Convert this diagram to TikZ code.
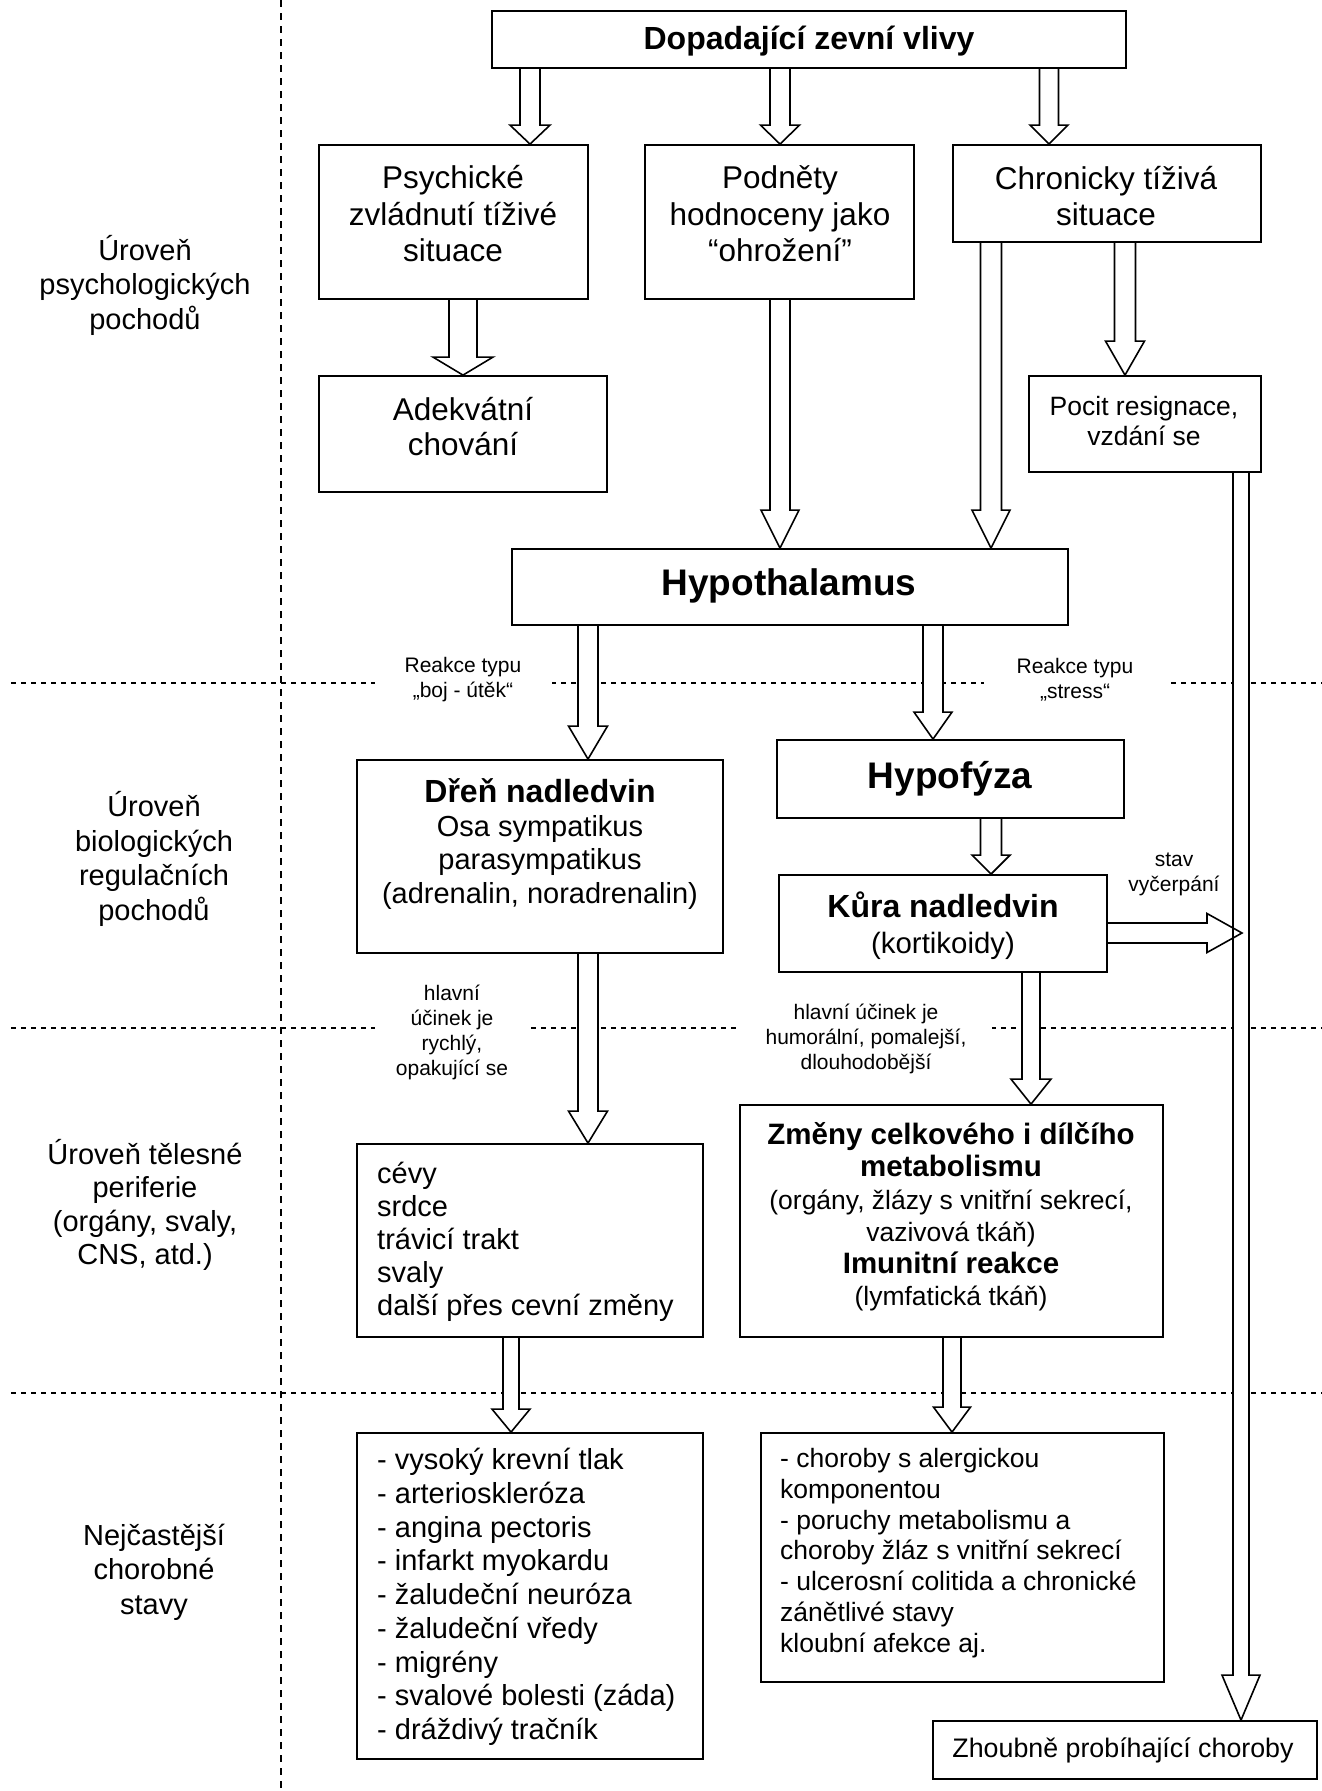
\documentclass[tikz,border=0pt]{standalone}
\usepackage{fontspec}
\setmainfont{Liberation Sans}
\usetikzlibrary{calc}
\pgfdeclarelayer{back}
\pgfdeclarelayer{arr}
\pgfsetlayers{back,arr,main}
% vertical block arrow: [opts]{start}{target (y only)}{shaft half width}{head half width}{head length}
\newcommand{\vblock}[6][]{%
  \draw[blockarrow,#1] let \p1=#2, \p2=#3 in
    (\x1-#4,\y1) -- (\x1-#4,\y2+#6) -- (\x1-#5,\y2+#6) -- (\x1,\y2)
    -- (\x1+#5,\y2+#6) -- (\x1+#4,\y2+#6) -- (\x1+#4,\y1);}
% horizontal block arrow (to the right)
\newcommand{\hblock}[6][]{%
  \draw[blockarrow,#1] let \p1=#2, \p2=#3 in
    (\x1,\y1+#4) -- (\x2-#6,\y1+#4) -- (\x2-#6,\y1+#5) -- (\x2,\y1)
    -- (\x2-#6,\y1-#5) -- (\x2-#6,\y1-#4) -- (\x1,\y1-#4);}
\begin{document}
\begin{tikzpicture}[x=1pt,y=-1pt,
  box/.style={draw, line width=1.8pt, fill=white, inner sep=0pt},
  txt/.style={inner sep=0pt, align=center},
  ltxt/.style={inner sep=0pt, align=left, anchor=west},
  lbl/.style={inner sep=0pt, align=center, fill=white, font=\fontsize{21}{25}\selectfont},
  side/.style={inner sep=0pt, align=center, font=\fontsize{29}{34.5}\selectfont},
  blockarrow/.style={draw, line width=1.6pt, fill=white, line join=miter},
  hdash/.style={line width=1.3pt, dash pattern=on 5pt off 5pt},
  vdash/.style={line width=1.3pt, dash pattern=on 7pt off 6pt}]
\useasboundingbox (0,0) rectangle (1322,1791);
\begin{pgfonlayer}{back}
  \fill[white] (0,0) rectangle (1322,1791);
  \draw[vdash] (281,0) -- (281,1791);
  \draw[hdash] (11,683) -- (1322,683);
  \draw[hdash] (11,1028) -- (1322,1028);
  \draw[hdash] (11,1393) -- (1322,1393);
\end{pgfonlayer}

% boxes
\node[box, minimum width=634pt, minimum height=57pt] (top) at (809,39.5) {};
\node[box, minimum width=269pt, minimum height=154pt] (psych) at (453.5,222) {};
\node[box, minimum width=269pt, minimum height=154pt] (podnety) at (779.5,222) {};
\node[box, minimum width=308pt, minimum height=97pt] (chron) at (1107,193.5) {};
\node[box, minimum width=288pt, minimum height=116pt] (adekv) at (463,434) {};
\node[box, minimum width=232pt, minimum height=96pt] (pocit) at (1145,424) {};
\node[box, minimum width=556pt, minimum height=76pt] (hypoth) at (790,587) {};
\node[box, minimum width=366pt, minimum height=193pt] (dren) at (540,856.5) {};
\node[box, minimum width=347pt, minimum height=78pt] (hypof) at (950.5,779) {};
\node[box, minimum width=328pt, minimum height=97pt] (kura) at (943,923.5) {};
\node[box, minimum width=346pt, minimum height=193pt] (cevy) at (530,1240.5) {};
\node[box, minimum width=423pt, minimum height=232pt] (zmeny) at (951.5,1221) {};
\node[box, minimum width=346pt, minimum height=326pt] (vysoky) at (530,1596) {};
\node[box, minimum width=403pt, minimum height=249pt] (choroby) at (962.5,1557.5) {};
\node[box, minimum width=384pt, minimum height=58pt] (zhoubne) at (1125,1750) {};
\coordinate (exh) at (1242,933);

% block arrows
\begin{pgfonlayer}{arr}
\vblock{(top.south -| 530,0)}{(psych.north)}{10pt}{20pt}{19pt}
\vblock{(top.south -| 780,0)}{(podnety.north)}{10pt}{19.5pt}{19pt}
\vblock{(top.south -| 1049,0)}{(chron.north)}{9.5pt}{19pt}{19pt}
\vblock{(psych.south -| 463,0)}{(adekv.north)}{14pt}{30pt}{18pt}
\vblock{(podnety.south -| 780,0)}{(hypoth.north)}{10pt}{19pt}{38pt}
\vblock{(chron.south -| 991,0)}{(hypoth.north)}{10.5pt}{19pt}{38pt}
\vblock{(chron.south -| 1125,0)}{(pocit.north)}{10.5pt}{19.5pt}{34pt}
\vblock{(pocit.south -| 1241,0)}{(zhoubne.north)}{8pt}{19pt}{45pt}
\vblock{(hypoth.south -| 588,0)}{(dren.north)}{10pt}{19.5pt}{33pt}
\vblock{(hypoth.south -| 933,0)}{(hypof.north)}{10pt}{19pt}{27pt}
\vblock{(hypof.south -| 991,0)}{(kura.north)}{10.5pt}{19pt}{19pt}
\vblock{(dren.south -| 588,0)}{(cevy.north)}{10pt}{19.5pt}{32pt}
\vblock{(kura.south -| 1031,0)}{(zmeny.north)}{9pt}{20pt}{25pt}
\vblock{(cevy.south -| 511,0)}{(vysoky.north)}{8pt}{19pt}{23pt}
\vblock{(zmeny.south -| 952,0)}{(choroby.north)}{9pt}{18.5pt}{25pt}
\end{pgfonlayer}
\hblock[fill=none]{(kura.east |- 0,933)}{(exh)}{10pt}{19.5pt}{35pt}

% labels on the dashed lines
\node[lbl, minimum width=177pt] (bojL) at (463,680) {Reakce typu\\„boj - útěk“};
\node[lbl, minimum width=182pt] (stressL) at (1075,680) {Reakce typu\\„stress“};
\node[lbl, minimum width=155pt] (rychL) at (452,1032) {hlavní\\účinek je\\rychlý,\\opakující se};
\node[lbl, minimum width=251pt] (humL) at (866,1039) {hlavní účinek je\\humorální, pomalejší,\\dlouhodobější};
\node[lbl, fill=none] (stavL) at (1174,874) {stav\\vyčerpání};

% side labels
\node[side] (lev1) at (145,285) {Úroveň\\psychologických\\pochodů};
\node[side] (lev2) at (154,859) {Úroveň\\biologických\\regulačních\\pochodů};
\node[side, font=\fontsize{29}{33.5}\selectfont] (lev3) at (145,1205) {Úroveň tělesné\\periferie\\(orgány, svaly,\\CNS, atd.)};
\node[side] (lev4) at (154,1572) {Nejčastější\\chorobné\\stavy};

% box texts
\node[txt, font=\bfseries\fontsize{32}{36}\selectfont] (topT) at (809,41) {Dopadající zevní vlivy};
\node[txt, font=\fontsize{31.5}{36.5}\selectfont] (psychT) at (453,214) {Psychické\\zvládnutí tíživé\\situace};
\node[txt, font=\fontsize{31.5}{36.5}\selectfont] (podnetyT) at (780,214) {Podněty\\hodnoceny jako\\“ohrožení”};
\node[txt, font=\fontsize{31.5}{36.5}\selectfont] (chronT) at (1106,196) {Chronicky tíživá\\situace};
\node[txt, font=\fontsize{31.5}{35}\selectfont] (adekvT) at (463,427) {Adekvátní\\chování};
\node[txt, font=\fontsize{26.5}{30}\selectfont] (pocitT) at (1144,421) {Pocit resignace,\\vzdání se};
\node[txt, font=\bfseries\fontsize{37}{40}\selectfont] (hypothT) at (789,586) {Hypothalamus};
\node[txt, font=\fontsize{29}{33.5}\selectfont] (drenT) at (540,844) {{\bfseries\fontsize{32}{33.5}\selectfont Dřeň nadledvin}\\Osa sympatikus\\parasympatikus\\(adrenalin, noradrenalin)};
\node[txt, font=\bfseries\fontsize{37}{40}\selectfont] (hypofT) at (950,779) {Hypofýza};
\node[txt, font=\fontsize{29.4}{36}\selectfont] (kuraT) at (943,926) {{\bfseries\fontsize{32}{36}\selectfont Kůra nadledvin}\\(kortikoidy)};
\node[ltxt, font=\fontsize{29}{33}\selectfont] (cevyT) at (377,1242) {cévy\\srdce\\trávicí trakt\\svaly\\další přes cevní změny};
\node[txt, font=\fontsize{26.5}{32.2}\selectfont] (zmenyT) at (951,1217) {{\bfseries\fontsize{29.5}{32.2}\selectfont Změny celkového i dílčího}\\{\bfseries\fontsize{29.5}{32.2}\selectfont metabolismu}\\(orgány, žlázy s vnitřní sekrecí,\\vazivová tkáň)\\{\bfseries\fontsize{29.5}{32.2}\selectfont Imunitní reakce}\\(lymfatická tkáň)};
\node[ltxt, font=\fontsize{29}{33.75}\selectfont] (vysokyT) at (377,1597) {- vysoký krevní tlak\\- arterioskleróza\\- angina pectoris\\- infarkt myokardu\\- žaludeční neuróza\\- žaludeční vředy\\- migrény\\- svalové bolesti (záda)\\- dráždivý tračník};
\node[ltxt, font=\fontsize{26.5}{30.8}\selectfont] (chorobyT) at (780,1553) {- choroby s alergickou\\komponentou\\- poruchy metabolismu a\\choroby žláz s vnitřní sekrecí\\- ulcerosní colitida a chronické\\zánětlivé stavy\\kloubní afekce aj.};
\node[txt, font=\fontsize{26.8}{30}\selectfont] (zhoubneT) at (1123,1750) {Zhoubně probíhající choroby};
\end{tikzpicture}
\end{document}
